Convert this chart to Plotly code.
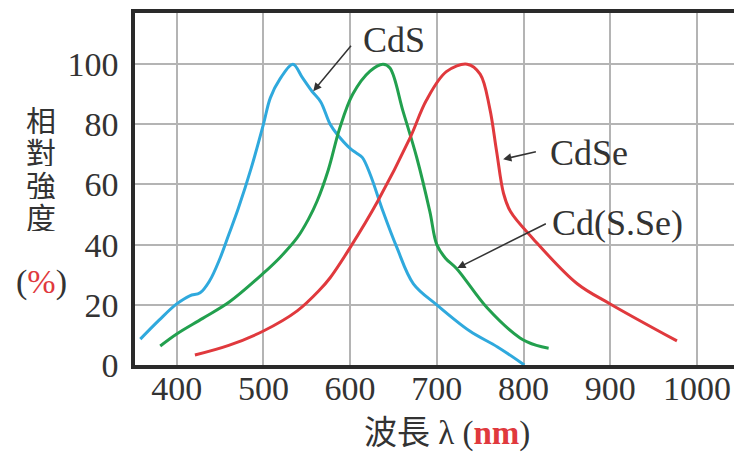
import plotly.graph_objects as go

# ---- data ----
cds_w = [358, 380, 400, 415, 427, 438, 450, 460, 471, 486, 500, 508, 519, 534,
         545, 556, 566, 577, 585, 600, 607, 614, 623, 638, 654, 673, 700, 738, 770, 801]
cds_v = [8.6, 15, 20.3, 23, 24, 28, 35.5, 43.3, 52, 65.5, 80, 88.8, 95, 100,
         95.5, 91, 87.5, 80, 76.7, 72, 70.5, 69, 63.5, 51, 39, 27, 20, 11.3, 6, 0]

cdsse_w = [381, 400, 430, 461, 500, 520, 539, 552, 562, 575, 588, 603, 623, 638, 646, 661, 677,
           692, 700, 710, 723, 758, 796, 815, 829]
cdsse_v = [6.3, 10.3, 15.5, 21, 30.5, 36, 42.3, 48.5, 54.5, 65, 78.7, 90, 97.7, 100, 98.7, 84.4, 68.8,
           51, 40, 35.5, 32, 19, 9, 6.5, 5.6]

cdse_w = [421, 460, 500, 539, 565, 577, 600, 632, 669, 688, 711, 735, 750, 761,
          769, 777, 785, 811, 862, 900, 977]
cdse_v = [3.3, 6.5, 11.3, 18, 25, 29, 39, 54.5, 75.4, 88, 97.5, 100, 96.7, 85.4,
          71, 57, 51, 42, 27, 20.3, 8]

x_ticks = [400, 500, 600, 700, 800, 900, 1000]
y_ticks = [0, 20, 40, 60, 80, 100]

labels = ["CdS", "CdSe", "Cd(S.Se)"]
y_title_chars = ["相", "對", "強", "度"]

# ---- style ----
BLUE = "#2fa9dd"
GREEN = "#22a04e"
RED = "#e0393d"
TXT = "#333333"
SERIF = "Liberation Serif"
CJK = "Noto Sans CJK TC"

W, H = 734, 454
ML, MT, MB, MR = 135, 13, 89, 0
PW, PH = W - ML - MR, H - MT - MB
X0 = 400 - (176.7 - ML) / 0.867
X1 = X0 + PW / 0.867

def px2paper(px, py):
    return (px - ML) / PW, (H - MB - py) / PH

fig = go.Figure()
for w, v, c in [(cds_w, cds_v, BLUE), (cdsse_w, cdsse_v, GREEN), (cdse_w, cdse_v, RED)]:
    fig.add_trace(go.Scatter(x=w, y=v, mode="lines", line=dict(color=c, width=3, shape="spline", smoothing=1.0),
                             showlegend=False, hoverinfo="skip"))

anns = []
arrow_specs = [
    (557.5, 91, 602.5, 106.6),
    (776.5, 68.4, 816, 71),
    (723.6, 32.2, 827.5, 47.2),
]
for hx, hy, tx, ty in arrow_specs:
    anns.append(dict(x=hx, y=hy, ax=tx, ay=ty, xref="x", yref="y", axref="x", ayref="y",
                     text="", showarrow=True, arrowhead=2, arrowsize=1.1, arrowwidth=1.5,
                     arrowcolor="#333333", standoff=0))
anns.append(dict(x=651, y=108, xref="x", yref="y", text=labels[0], showarrow=False,
                 xanchor="center", yanchor="middle", font=dict(family=SERIF, size=36, color=TXT)))
anns.append(dict(x=828, y=70.4, xref="x", yref="y", text=labels[1], showarrow=False,
                 xanchor="left", yanchor="middle", font=dict(family=SERIF, size=36, color=TXT)))
anns.append(dict(x=831, y=47.2, xref="x", yref="y", text=labels[2], showarrow=False,
                 xanchor="left", yanchor="middle", font=dict(family=SERIF, size=36, color=TXT)))

for ch, py in zip(y_title_chars, [118, 150, 183, 215]):
    xp, yp = px2paper(41, py)
    anns.append(dict(x=xp, y=yp, xref="paper", yref="paper", text=ch, showarrow=False,
                     xanchor="center", yanchor="middle", height=31, valign="middle",
                     font=dict(family=CJK, size=30, color=TXT)))
xp, yp = px2paper(41, 282)
anns.append(dict(x=xp, y=yp, xref="paper", yref="paper",
                 text="(<span style='color:%s'>%%</span>)" % RED, showarrow=False,
                 xanchor="center", yanchor="middle",
                 font=dict(family=SERIF, size=34, color=TXT)))
xp, yp = px2paper(447, 430)
anns.append(dict(x=xp, y=yp, xref="paper", yref="paper",
                 text="<span style='font-family:\"Noto Sans CJK TC\"'>波長</span> λ (<span style='color:%s'><b>nm</b></span>)" % RED,
                 showarrow=False, xanchor="center", yanchor="middle",
                 font=dict(family=SERIF, size=33, color=TXT)))

fig.update_layout(
    width=W, height=H,
    margin=dict(l=ML, r=MR, t=MT, b=MB, pad=0, autoexpand=False),
    paper_bgcolor="white", plot_bgcolor="white",
    annotations=anns,
    xaxis=dict(range=[X0, X1], tickvals=x_ticks, ticktext=[str(t) for t in x_ticks],
               showgrid=True, gridcolor="#b4b4b4", gridwidth=2, automargin=False,
               showline=True, linecolor="#2a2a2a", linewidth=3.5, mirror=True,
               ticks="", ticklabelstandoff=-10, tickfont=dict(family=SERIF, size=34, color=TXT),
               zeroline=False, fixedrange=True),
    yaxis=dict(range=[0, 117], tickvals=y_ticks, ticktext=[str(t) for t in y_ticks],
               showgrid=True, gridcolor="#b4b4b4", gridwidth=2, automargin=False,
               showline=True, linecolor="#2a2a2a", linewidth=3.5,
               ticks="outside", ticklen=6, tickcolor="rgba(0,0,0,0)",
               tickfont=dict(family=SERIF, size=34, color=TXT),
               zeroline=False, fixedrange=True),
)

fig.write_html("out.html")
